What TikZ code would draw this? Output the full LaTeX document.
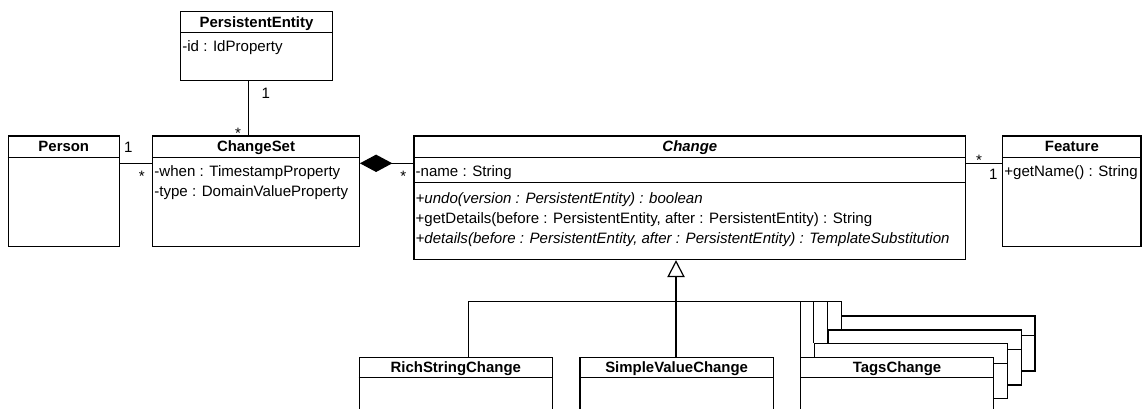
\documentclass[tikz,border=0pt]{standalone}
\usepackage{fontspec}
\setmainfont{Liberation Sans}
\usetikzlibrary{arrows.meta,calc,fit}
% horizontal compartment line inside a class box, #2 pixels below its top
\newcommand\umlsep[2]{\draw[conn] ($(#1.north west)+(0,#2)$) -- ($(#1.north east)+(0,#2)$);}
\begin{document}
\begin{tikzpicture}[x=0.75pt,y=-0.75pt,
  every node/.style={font=\fontsize{11.3pt}{13pt}\selectfont},
  box/.style={draw,fill=white,line width=0.9pt,inner sep=0pt},
  conn/.style={line width=0.9pt},
  title/.style={anchor=base,inner sep=0pt,font=\fontsize{11.2pt}{13pt}\selectfont\bfseries},
  member/.style={anchor=base west,inner sep=0pt},
  mult/.style={anchor=base,inner sep=0pt}]
\clip (0,0) rectangle (1146,408);

% ---- classes ----
\node[box,fit={(180.7,11.7) (332.3,80.7)}] (pe) {};
\umlsep{pe}{21}
\node[title] at ($(pe.north)+(0,16)$) {PersistentEntity};
\node[member] at ($(pe.north west)+(2,40.3)$) {-id : IdProperty};

\node[box,fit={(8.3,136) (119.3,246.7)}] (person) {};
\umlsep{person}{21.7}
\node[title] at ($(person.north)+(0,16.3)$) {Person};

\node[box,fit={(152.7,136) (359.3,246.7)}] (changeset) {};
\umlsep{changeset}{21.7}
\node[title] at ($(changeset.north)+(0,16.3)$) {ChangeSet};
\node[member] at ($(changeset.north west)+(2,41)$) {-when : TimestampProperty};
\node[member] at ($(changeset.north west)+(2,61)$) {-type : DomainValueProperty};

\node[box,fit={(414,136) (965.7,259.5)}] (change) {};
\umlsep{change}{21.7}
\umlsep{change}{47.3}
\node[title] at ($(change.north)+(0,16.3)$) {\itshape Change};
\node[member] at ($(change.north west)+(2,41)$) {-name : String};
\node[member] at ($(change.north west)+(2,67.6)$) {\itshape +undo(version : PersistentEntity) : boolean};
\node[member] at ($(change.north west)+(2,87.6)$) {+getDetails(before : PersistentEntity, after : PersistentEntity) : String};
\node[member] at ($(change.north west)+(2,107.6)$) {\itshape +details(before : PersistentEntity, after : PersistentEntity) : TemplateSubstitution};

\node[box,fit={(1002.7,136) (1141,246.7)}] (feature) {};
\umlsep{feature}{21.7}
\node[title] at ($(feature.north)+(0,16.3)$) {Feature};
\node[member] at ($(feature.north west)+(2,41)$) {+getName() : String};

\node[box,fit={(359.3,357.3) (552.3,412.3)}] (rich) {};
\umlsep{rich}{20.4}
\node[title] at ($(rich.north)+(0,15.7)$) {RichStringChange};

\node[box,fit={(580,357.3) (773.3,412.3)}] (simple) {};
\umlsep{simple}{20.4}
\node[title] at ($(simple.north)+(0,15.7)$) {SimpleValueChange};

% stacked TagsChange boxes, back to front
\node[box,fit={(841.7,316) (1035,371)}] (tagsC) {};
\umlsep{tagsC}{20.4}
\node[box,fit={(828,330) (1021.4,385)}] (tagsB) {};
\umlsep{tagsB}{20.4}
\node[box,fit={(814.4,343.6) (1007.7,398.6)}] (tagsA) {};
\umlsep{tagsA}{20.4}
\node[box,fit={(800.7,357.3) (993.3,412.3)}] (tags) {};
\umlsep{tags}{20.4}
\node[title] at ($(tags.north)+(0,15.7)$) {TagsChange};

% ---- connectors ----
\coordinate (rowA) at (0,163.3);
\coordinate (peX) at (248.3,0);
\draw[conn] (pe.south -| peX) -- (changeset.north -| peX);
\draw[conn] (person.east |- rowA) -- (changeset.west |- rowA);
\draw[conn,{Diamond[length=24.3pt,width=13pt]}-] (changeset.east |- rowA) -- (change.west |- rowA);
\draw[conn] (change.east |- rowA) -- (feature.west |- rowA);

\coordinate (bus) at (676,301.7);
\draw[conn,-{Triangle[open,length=12.75pt,width=13pt]}] (bus) -- (change.south -| bus);
\draw[conn] ($(rich.north west)+(110,0)$) |- (bus);
\draw[conn] (simple.north -| bus) -- (bus);
\draw[conn] (tags.north west) |- (bus);
\draw[conn] (tagsA.north west) |- (bus);
\draw[conn] (tagsB.north west) |- (bus);
\draw[conn] (tagsC.north west) |- (bus);

% ---- multiplicities ----
\node[mult] at (265.7,98) {1};
\node[mult] at (238,138.5) {*};
\node[mult] at (128.3,152) {1};
\node[mult] at (141.7,181) {*};
\node[mult] at (403.3,181) {*};
\node[mult] at (979,165) {*};
\node[mult] at (993.3,179.5) {1};
\end{tikzpicture}
\end{document}
